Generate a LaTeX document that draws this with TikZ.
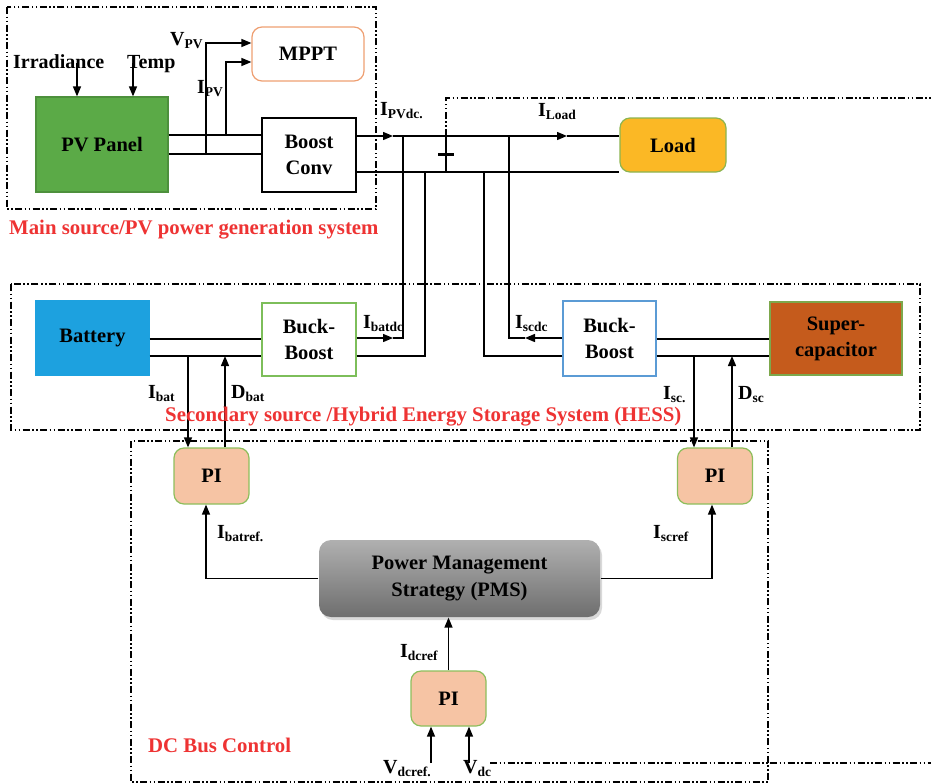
\documentclass[tikz,border=0pt]{standalone}
\usepackage{fontspec}
\setmainfont{Liberation Serif}
\usetikzlibrary{arrows.meta,shadows}
\definecolor{pvgreen}{HTML}{5BAA47}
\definecolor{mpptor}{HTML}{EE9F72}
\definecolor{loadfill}{HTML}{FBB825}
\definecolor{loaddraw}{HTML}{8CB450}
\definecolor{batfill}{HTML}{1DA1DF}
\definecolor{bbgreen}{HTML}{7DBE5A}
\definecolor{bbblue}{HTML}{5B9BD5}
\definecolor{scfill}{HTML}{C55B1C}
\definecolor{scdraw}{HTML}{7DA84C}
\definecolor{pifill}{HTML}{F6C4A4}
\definecolor{pidraw}{HTML}{8DBE5C}
\definecolor{pmstop}{HTML}{B0B0B0}
\definecolor{pmsbot}{HTML}{6E6E6E}
\definecolor{redlbl}{HTML}{EE3333}
\newcommand{\sbs}[1]{\raisebox{-0.35ex}{\fontsize{13.5}{13.5}\selectfont #1}}
\begin{document}
\begin{tikzpicture}[x=1pt,y=-1pt,
  box/.style={draw, line width=1.2pt, align=center, inner sep=0pt,
    font=\bfseries\fontsize{20.5}{23}\selectfont},
  twoline/.style={font=\bfseries\fontsize{20.5}{26}\selectfont},
  pibox/.style={box, fill=pifill, draw=pidraw, rounded corners=10pt,
    minimum width=75pt, minimum height=56pt},
  lbl/.style={font=\bfseries\fontsize{20}{22}\selectfont, inner sep=0pt, anchor=base west},
  redtxt/.style={font=\bfseries\fontsize{20.8}{22}\selectfont, text=redlbl, inner sep=0pt, anchor=base west},
  wire/.style={line width=1.4pt},
  arr/.style={wire, -{Triangle[length=10pt,width=8pt]}},
  dd/.style={line width=1.2pt, dash pattern=on 7pt off 2.5pt on 1.5pt off 2.5pt on 1.5pt off 2.5pt}
]
\useasboundingbox (0,0) rectangle (931,782);

% group frames
\draw[dd] (7,7) rectangle (376,209);
\draw[dd] (11,284) rectangle (920,430);
\draw[dd] (131,441) rectangle (768,782);
\draw[dd] (446,136) -- (446,98) -- (931,98);
\draw[dd] (490,763) -- (931,763);

% level and column helpers
\coordinate (L43) at (0,43);
\coordinate (L62) at (0,62);
\coordinate (L63) at (0,63);
\coordinate (L135) at (0,135);
\coordinate (L136) at (0,136);
\coordinate (L154) at (0,154);
\coordinate (L172) at (0,172);
\coordinate (L338) at (0,338);
\coordinate (L339) at (0,339);
\coordinate (L356) at (0,356);
\coordinate (L763) at (0,763);

% blocks
\node[box, fill=pvgreen, draw=pvgreen!85!black, minimum width=132pt, minimum height=95pt] (pv) at (102,144.5) {PV Panel};
\node[box, draw=mpptor, rounded corners=10pt, minimum width=112pt, minimum height=54pt] (mppt) at (308,54) {MPPT};
\node[box, twoline, minimum width=94pt, minimum height=74pt] (boost) at (309,155) {Boost\\Conv};
\node[box, fill=loadfill, draw=loaddraw, rounded corners=10pt, minimum width=106pt, minimum height=54pt] (load) at (673,145) {Load};
\node[box, fill=batfill, draw=batfill, minimum width=113pt, minimum height=74pt] (bat) at (92.5,338) {Battery};
\node[box, twoline, draw=bbgreen, minimum width=94pt, minimum height=73pt] (bbb) at (309,339.5) {Buck-\\Boost};
\node[box, twoline, draw=bbblue, minimum width=93pt, minimum height=75pt] (bbs) at (609.5,338.5) {Buck-\\Boost};
\node[box, twoline, fill=scfill, draw=scdraw, minimum width=132pt, minimum height=73pt] (sc) at (836,338.5) {Super-\\capacitor};
\node[pibox] (pil) at (211.5,476) {PI};
\node[pibox] (pir) at (715,476) {PI};
\node[pibox, minimum height=55pt] (pib) at (448.5,698.5) {PI};
\node[box, draw=none, rounded corners=12pt, top color=pmstop, bottom color=pmsbot,
  drop shadow={opacity=0.3, shadow xshift=2pt, shadow yshift=-3pt},
  minimum width=281pt, minimum height=77pt, font=\bfseries\fontsize{20.5}{27}\selectfont] (pms) at (459.5,578.5) {Power Management\\Strategy (PMS)};

% junction columns
\coordinate (jv) at (206,154);
\coordinate (ji) at (226,135);
\coordinate (a1) at (393,136);
\coordinate (a2) at (567,136);
\coordinate (a3) at (393,338);
\coordinate (a4) at (525,338);
\coordinate (c77) at (77,0);
\coordinate (c133) at (133,0);
\coordinate (c188) at (188,0);
\coordinate (c206) at (206,0);
\coordinate (c225) at (225,0);
\coordinate (c403) at (403,0);
\coordinate (c425) at (425,0);
\coordinate (c446) at (446,0);
\coordinate (c484) at (484,0);
\coordinate (c509) at (509,0);
\coordinate (c694) at (694,0);
\coordinate (c712) at (712,0);
\coordinate (c732) at (732,0);
\coordinate (c431) at (431,0);
\coordinate (c469) at (469,0);

% PV side
\draw[arr] (c77 |- L63) -- (c77 |- pv.north);
\draw[arr] (c133 |- L63) -- (c133 |- pv.north);
\draw[wire] (pv.east |- L135) -- (boost.west |- L135);
\draw[wire] (pv.east |- L154) -- (boost.west |- L154);
\draw[arr] (jv) |- (mppt.west |- L43);
\draw[arr] (ji) |- (mppt.west |- L62);

% DC bus
\draw[arr] (boost.east |- L136) -- (a1);
\draw[arr] (a1) -- (a2);
\draw[wire] (a2) -- (load.west |- L136);
\draw[wire] (boost.east |- L172) -- (load.west |- L172);
\draw[wire] (c446 |- L136) -- (c446 |- L172);
\draw[line width=3pt] (438,154) -- (454,154);

% battery side
\draw[wire] (bat.east |- L339) -- (bbb.west |- L339);
\draw[wire] (bat.east |- L356) -- (bbb.west |- L356);
\draw[arr] (bbb.east |- L338) -- (a3);
\draw[wire] (a3) -| (c403 |- L136);
\draw[wire] (bbb.east |- L356) -| (c425 |- L172);

% supercap side
\draw[arr] (bbs.west |- L338) -- (a4);
\draw[wire] (a4) -| (c509 |- L136);
\draw[wire] (bbs.west |- L356) -| (c484 |- L172);
\draw[wire] (bbs.east |- L339) -- (sc.west |- L339);
\draw[wire] (bbs.east |- L356) -- (sc.west |- L356);

% control
\draw[arr] (c188 |- L356) -- (c188 |- pil.north);
\draw[arr] (c225 |- pil.north) -- (c225 |- L356);
\draw[arr] (c694 |- L356) -- (c694 |- pir.north);
\draw[arr] (c732 |- pir.north) -- (c732 |- L356);
\draw[arr] (pms.west) -| (c206 |- pil.south);
\draw[arr] (pms.east) -| (c712 |- pir.south);
\draw[arr] (pib.north) -- (pib.north |- pms.south);
\draw[arr] (c431 |- L763) -- (c431 |- pib.south);
\draw[arr] (c469 |- L763) -- (c469 |- pib.south);

% labels
\node[lbl] (tirr) at (13,68) {Irradiance};
\node[lbl] (ttemp) at (127,68) {Temp};
\node[lbl] (tvpv) at (170,45) {V\sbs{PV}};
\node[lbl] (tipv) at (197,93) {I\sbs{PV}};
\node[lbl] (tipvdc) at (380,115) {I\sbs{PVdc.}};
\node[lbl] (tiload) at (538,116) {I\sbs{Load}};
\node[lbl] (tibatdc) at (363,328) {I\sbs{batdc}};
\node[lbl] (tibat) at (148,398) {I\sbs{bat}};
\node[lbl] (tdbat) at (231,398) {D\sbs{bat}};
\node[lbl] (tiscdc) at (515,328) {I\sbs{scdc}};
\node[lbl] (tisc) at (663,399) {I\sbs{sc.}};
\node[lbl] (tdsc) at (738,399) {D\sbs{sc}};
\node[lbl] (tibatref) at (217,538) {I\sbs{batref.}};
\node[lbl] (tiscref) at (653,538) {I\sbs{scref}};
\node[lbl] (tidcref) at (400,657) {I\sbs{dcref}};
\node[lbl] (tvdcref) at (383,773) {V\sbs{dcref.}};
\node[lbl] (tvdc) at (463,773) {V\sbs{dc}};

\node[redtxt] (tmain) at (9,234) {Main source/PV power generation system};
\node[redtxt] (tsec) at (165,421) {Secondary source /Hybrid Energy Storage System (HESS)};
\node[redtxt] (tdcb) at (148,752) {DC Bus Control};
\end{tikzpicture}
\end{document}
